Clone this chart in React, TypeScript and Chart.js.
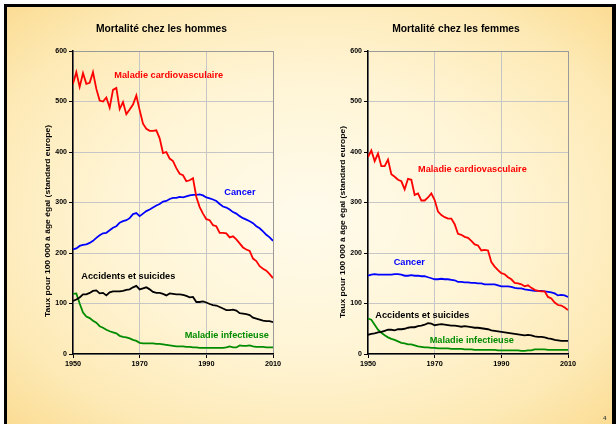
import React, { useEffect, useRef } from "react";
import { Chart, registerables } from "chart.js";

Chart.register(...registerables);

const FONT = "'Liberation Sans', Arial, Helvetica, sans-serif";

const years = [
  1950, 1951, 1952, 1953, 1954, 1955, 1956, 1957, 1958, 1959,
  1960, 1961, 1962, 1963, 1964, 1965, 1966, 1967, 1968, 1969,
  1970, 1971, 1972, 1973, 1974, 1975, 1976, 1977, 1978, 1979,
  1980, 1981, 1982, 1983, 1984, 1985, 1986, 1987, 1988, 1989,
  1990, 1991, 1992, 1993, 1994, 1995, 1996, 1997, 1998, 1999,
  2000, 2001, 2002, 2003, 2004, 2005, 2006, 2007, 2008, 2009, 2010,
];

const xTicks = [1950, 1970, 1990, 2010];
const yTicks = [0, 100, 200, 300, 400, 500, 600];

const yAxisTitle = "Taux pour 100 000 à âge égal (standard europe)";

// Hommes
const menCardio = [
  535, 558, 529, 556, 535, 537, 558, 525, 502, 500,
  508, 488, 523, 527, 485, 499, 475, 484, 494, 512,
  483, 456, 446, 442, 442, 443, 427, 398, 400, 387,
  382, 368, 357, 354, 342, 344, 348, 311, 291, 278,
  267, 265, 255, 253, 240, 240, 239, 231, 233, 227,
  219, 211, 207, 204, 189, 184, 174, 169, 165, 158, 150,
];
const menCancer = [
  207, 209, 214, 216, 217, 220, 224, 230, 235, 239,
  240, 245, 250, 253, 260, 263, 265, 269, 277, 279,
  273, 278, 283, 286, 290, 294, 297, 302, 303, 307,
  309, 309, 311, 310, 312, 314, 315, 315, 316, 314,
  310, 308, 306, 303, 297, 292, 290, 286, 281, 278,
  273, 269, 266, 263, 259, 253, 249, 243, 236, 231, 224,
];
const menAccidents = [
  105, 108, 112, 118, 118, 121, 125, 126, 120, 121,
  116, 122, 124, 124, 124, 125, 127, 128, 132, 135,
  128, 130, 132, 128, 123, 121, 121, 119, 116, 120,
  119, 118, 118, 117, 115, 112, 113, 103, 103, 104,
  102, 99, 97, 96, 93, 90, 87, 87, 88, 86,
  81, 80, 79, 77, 72, 70, 68, 66, 65, 65, 63,
];
const menInfect = [
  119, 120, 100, 82, 74, 71, 66, 62, 55, 52,
  48, 45, 43, 41, 36, 34, 33, 31, 28, 26,
  22, 21, 21, 21, 21, 20, 20, 19, 18, 17,
  16, 15, 15, 15, 14, 14, 13, 13, 12, 12,
  12, 12, 12, 12, 12, 12, 13, 15, 13, 13,
  17, 16, 16, 17, 15, 14, 14, 14, 13, 13, 13,
];

// Femmes
const womenCardio = [
  390, 403, 382, 397, 372, 372, 385, 356, 351, 345,
  342, 326, 347, 345, 315, 318, 304, 304, 310, 318,
  305, 282, 275, 271, 268, 268, 257, 238, 236, 232,
  230, 224, 217, 215, 205, 206, 205, 182, 173, 166,
  160, 158, 152, 148, 141, 140, 138, 134, 136, 131,
  127, 125, 124, 124, 113, 110, 102, 97, 96, 92, 87,
];
const womenCancer = [
  155, 157, 158, 157, 157, 157, 157, 157, 158, 158,
  157, 155, 155, 156, 155, 155, 154, 154, 152, 150,
  148, 148, 149, 148, 148, 147, 146, 143, 143, 142,
  142, 141, 141, 140, 140, 138, 138, 138, 138, 136,
  134, 134, 134, 133, 131, 130, 130, 128, 127, 126,
  125, 125, 125, 124, 123, 122, 120, 116, 117, 116, 113,
];
const womenAccidents = [
  38, 40, 41, 43, 44, 46, 48, 48, 47, 49,
  49, 50, 52, 53, 53, 55, 56, 58, 61, 60,
  57, 58, 59, 58, 57, 56, 56, 55, 54, 55,
  54, 53, 52, 52, 51, 50, 49, 47, 46, 45,
  44, 43, 42, 41, 40, 39, 38, 37, 38, 37,
  35, 34, 34, 33, 31, 30, 28, 27, 26, 26, 26,
];
const womenInfect = [
  70, 68, 58, 48, 42, 37, 33, 30, 28, 25,
  22, 21, 19, 19, 17, 15, 14, 13, 13, 12,
  12, 11, 11, 11, 11, 10, 10, 10, 10, 9,
  9, 9, 8, 8, 8, 8, 8, 8, 8, 7,
  7, 7, 7, 7, 7, 7, 6, 6, 7, 7,
  9, 9, 9, 9, 8, 8, 8, 8, 8, 8, 8,
];

const seriesNames = [
  "Maladie cardiovasculaire",
  "Cancer",
  "Accidents et suicides",
  "Maladie infectieuse",
];
const seriesColors = ["#ff0000", "#0000ff", "#000000", "#008c00"];

// label anchors (year, value) for the in-plot series labels
const menLabelYears = [1962.4, 1995.4, 1952.5, 1983.5];
const menLabelValues = [552, 320, 154, 37.6];
const womenLabelYears = [1965, 1957.7, 1952.2, 1968.5];
const womenLabelValues = [365, 182, 77, 26.3];

type ChartProps = {
  left: number;
  title: string;
  values: number[][];
  labelYears: number[];
  labelValues: number[];
  axisWidth: number;
  rightPad: number;
  titleX: number;
  yTitleX: number;
  yTitleY: number;
};

function MortalityChart(p: ChartProps) {
  const ref = useRef<HTMLCanvasElement | null>(null);
  useEffect(() => {
    if (!ref.current) return;
    const textPlugin = {
      id: "texts",
      afterDraw(chart: any) {
        const ctx = chart.ctx as CanvasRenderingContext2D;
        ctx.save();
        ctx.fillStyle = "#000";
        ctx.textAlign = "center";
        ctx.textBaseline = "middle";
        ctx.font = `bold 10.3px ${FONT}`;
        ctx.fillText(p.title, p.titleX, 29.5);

        ctx.save();
        ctx.font = `bold 6.4px ${FONT}`;
        const w = ctx.measureText(yAxisTitle).width;
        ctx.translate(p.yTitleX, p.yTitleY);
        ctx.rotate(-Math.PI / 2);
        ctx.scale(192 / w, 1);
        ctx.fillText(yAxisTitle, 0, 0);
        ctx.restore();

        ctx.font = `bold 9.2px ${FONT}`;
        ctx.textAlign = "left";
        for (let i = 0; i < seriesNames.length; i++) {
          const x = chart.scales.x.getPixelForValue(p.labelYears[i]);
          const y = chart.scales.y.getPixelForValue(p.labelValues[i]);
          ctx.fillStyle = seriesColors[i];
          ctx.fillText(seriesNames[i], x, y);
        }
        ctx.restore();
      },
    };

    const chart = new Chart(ref.current, {
      type: "line",
      data: {
        datasets: p.values.map((vals, i) => ({
          label: seriesNames[i],
          data: vals.map((v, j) => ({ x: years[j], y: v })),
          borderColor: seriesColors[i],
          backgroundColor: seriesColors[i],
          borderWidth: 1.8,
          pointRadius: 0,
          tension: 0,
          fill: false,
        })),
      },
      options: {
        animation: false,
        responsive: false,
        devicePixelRatio: 1,
        layout: { padding: { top: 51, right: p.rightPad, bottom: 0, left: 0 } },
        plugins: {
          legend: { display: false },
          title: { display: false },
          tooltip: { enabled: false },
        },
        scales: {
          x: {
            type: "linear",
            min: xTicks[0],
            max: xTicks[xTicks.length - 1],
            afterBuildTicks: (s: any) => {
              s.ticks = xTicks.map((v) => ({ value: v }));
            },
            afterFit: (s: any) => {
              s.height = 70;
            },
            ticks: {
              color: "#000",
              font: { family: FONT, size: 7.3, weight: "bold" },
              padding: 2,
              maxRotation: 0,
              callback: (v: any) => String(v),
            },
            grid: {
              color: (c: any) => (c.tick && c.tick.value === 2010 ? "#9a9a9a" : "#c6c6c6"),
              lineWidth: 1,
              tickColor: "#000",
              tickLength: 4,
            },
            border: { color: "#000", width: 1.5 },
          },
          y: {
            type: "linear",
            min: yTicks[0],
            max: yTicks[yTicks.length - 1],
            afterBuildTicks: (s: any) => {
              s.ticks = yTicks.map((v) => ({ value: v }));
            },
            afterFit: (s: any) => {
              s.width = p.axisWidth;
            },
            ticks: {
              color: "#000",
              font: { family: FONT, size: 7, weight: "bold" },
              padding: 2,
              callback: (v: any) => String(v),
            },
            grid: {
              color: (c: any) => (c.tick && c.tick.value === 600 ? "#9a9a9a" : "#c6c6c6"),
              lineWidth: 1,
              tickColor: "#000",
              tickLength: 4,
            },
            border: { color: "#000", width: 1.5 },
          },
        },
      },
      plugins: [textPlugin],
    } as any);
    return () => chart.destroy();
  }, []);

  return (
    <canvas
      ref={ref}
      width={308}
      height={424}
      style={{ position: "absolute", left: p.left, top: 0, width: 308, height: 424 }}
    />
  );
}

export default function App() {
  return (
    <div
      style={{
        position: "absolute",
        left: 0,
        top: 0,
        width: 616,
        height: 424,
        background: "#ffffff",
        overflow: "hidden",
      }}
    >
      <div
        style={{
          position: "absolute",
          left: 4,
          top: 4,
          width: 612,
          height: 420,
          boxSizing: "border-box",
          borderTop: "3px solid #000",
          borderLeft: "3px solid #000",
          borderRight: "4px solid #000",
          background:
            "radial-gradient(ellipse farthest-corner at 50% 50%, #fffbec 0%, #fff5d6 45%, #fde9b4 80%, #fbdc94 100%)",
        }}
      />
      <MortalityChart
        left={0}
        title="Mortalité chez les hommes"
        values={[menCardio, menCancer, menAccidents, menInfect]}
        labelYears={menLabelYears}
        labelValues={menLabelValues}
        axisWidth={73}
        rightPad={35}
        titleX={161.5}
        yTitleX={48}
        yTitleY={221}
      />
      <MortalityChart
        left={308}
        title="Mortalité chez les femmes"
        values={[womenCardio, womenCancer, womenAccidents, womenInfect]}
        labelYears={womenLabelYears}
        labelValues={womenLabelValues}
        axisWidth={60}
        rightPad={48}
        titleX={148}
        yTitleX={35}
        yTitleY={222}
      />
      <div
        style={{
          position: "absolute",
          left: 603,
          top: 415,
          fontFamily: FONT,
          fontSize: 6,
          fontWeight: "bold",
          color: "#444",
          lineHeight: "7px",
        }}
      >
        4
      </div>
    </div>
  );
}
